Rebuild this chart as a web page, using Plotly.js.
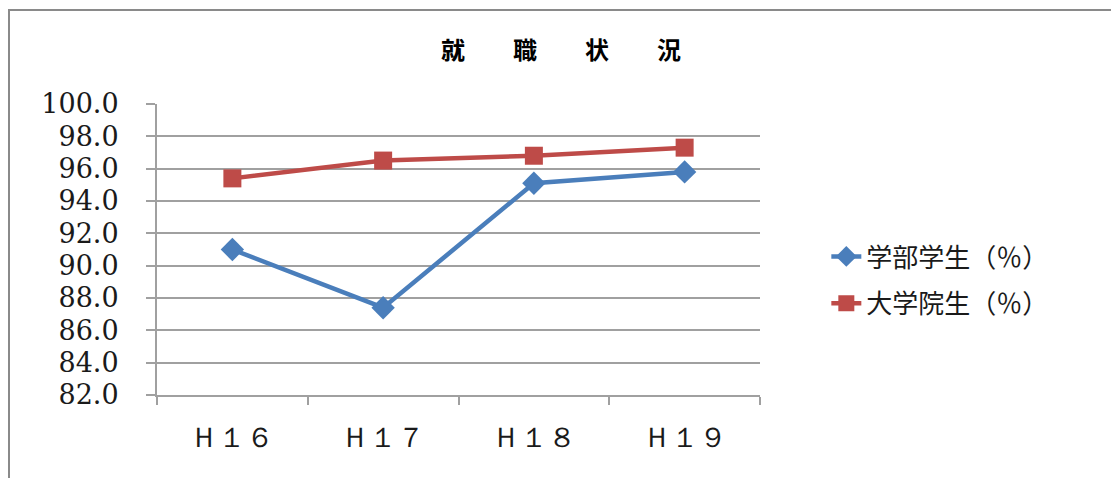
<!DOCTYPE html>
<html>
<head>
<meta charset="utf-8">
<script src="https://cdn.plot.ly/plotly-3.0.1.min.js"></script>
<style>
html,body{margin:0;padding:0;background:#fff;}
#wrap{position:relative;width:1111px;height:478px;overflow:hidden;}
#chart{position:absolute;left:0;top:0;width:1111px;height:478px;}
#frame{position:absolute;left:8px;top:9px;width:1200px;height:600px;border-left:2px solid #8a8a8a;border-top:2px solid #8a8a8a;pointer-events:none;}
</style>
</head>
<body>
<div id="wrap"><div id="chart"></div><div id="frame"></div></div>
<script>
const categories = ["Ｈ１６", "Ｈ１７", "Ｈ１８", "Ｈ１９"];
const undergrad = [91.0, 87.4, 95.1, 95.8];
const graduate = [95.4, 96.5, 96.8, 97.3];
const seriesNames = ["学部学生（％）", "大学院生（％）"];
const titleText = "就　　職　　状　　況";

const cjk = "Noto Sans CJK JP, Noto Sans, sans-serif";
const serif = "DejaVu Serif, Liberation Serif, serif";

const traces = [
  {
    x: categories, y: undergrad, name: seriesNames[0], type: "scatter", mode: "lines+markers",
    line: {color: "#4a7ebb", width: 4.5},
    marker: {symbol: "diamond", size: 18, color: "#4a7ebb"},
    legendgroup: "a"
  },
  {
    x: categories, y: graduate, name: seriesNames[1], type: "scatter", mode: "lines+markers",
    line: {color: "#be4b48", width: 4.5},
    marker: {symbol: "square", size: 18, color: "#be4b48"},
    legendgroup: "b"
  }
];

const layout = {
  width: 1111, height: 478,
  margin: {l: 157, r: 351, t: 104, b: 83},
  paper_bgcolor: "#fff", plot_bgcolor: "#fff",
  title: {text: titleText, font: {family: cjk, size: 24, color: "#000", weight: "bold"}, x: 0.505, xanchor: "center", y: 0.895, yanchor: "middle"},
  showlegend: true,
  legend: {
    x: 1.11, xanchor: "left", y: 0.395, yanchor: "middle", xref: "paper", yref: "paper",
    font: {family: cjk, size: 26, color: "#1a1a1a"},
    traceorder: "grouped", tracegroupgap: 10,
    bgcolor: "rgba(0,0,0,0)"
  },
  xaxis: {
    type: "category", range: [-0.5, 3.5],
    showgrid: false, showline: true, linecolor: "#a0a0a0", linewidth: 2,
    ticks: "outside", tickson: "boundaries", ticklen: 8, tickcolor: "#a0a0a0", tickwidth: 2,
    tickfont: {family: serif, size: 28, color: "#1a1a1a"},
    ticklabelstandoff: 16,
    zeroline: false, fixedrange: true
  },
  yaxis: {
    range: [82, 100], dtick: 2, tick0: 82, tickformat: ".1f",
    showgrid: true, gridcolor: "#a0a0a0", gridwidth: 2,
    showline: true, linecolor: "#a0a0a0", linewidth: 2,
    ticks: "outside", ticklen: 9, tickcolor: "#a0a0a0", tickwidth: 2,
    tickfont: {family: serif, size: 27, color: "#1a1a1a"},
    ticklabelstandoff: 22,
    zeroline: false, fixedrange: true
  }
};

Plotly.newPlot("chart", traces, layout, {staticPlot: true, displayModeBar: false});
</script>
</body>
</html>
